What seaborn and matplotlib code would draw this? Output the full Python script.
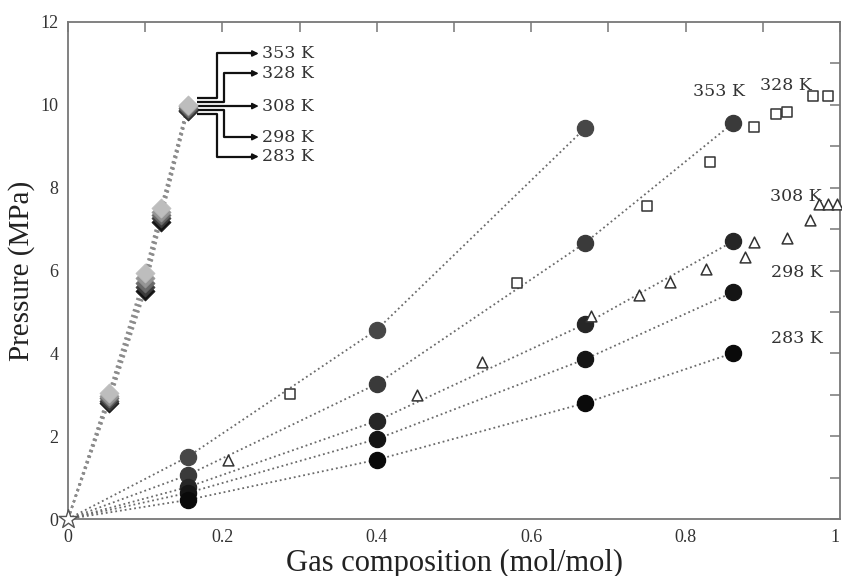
import numpy as np
import pandas as pd
import seaborn as sns
import matplotlib.pyplot as plt
from matplotlib.ticker import MultipleLocator

# temperatures (top to bottom)
temps = ['353 K', '328 K', '308 K', '298 K', '283 K']

# diamonds (low composition branch), one row per temperature
dia_x = [0.0, 0.053, 0.100, 0.120, 0.155]
dia_353 = [0.0, 3.05, 5.95, 7.50, 10.00]
dia_328 = [0.0, 2.98, 5.82, 7.42, 9.96]
dia_308 = [0.0, 2.92, 5.70, 7.34, 9.92]
dia_298 = [0.0, 2.86, 5.60, 7.26, 9.88]
dia_283 = [0.0, 2.80, 5.50, 7.18, 9.84]

# filled circles (high composition branch)
circ_x = [0.0, 0.155, 0.400, 0.670, 0.862]
circ_353 = [0.0, 1.50, 4.57, 9.44]
circ_328 = [0.0, 1.06, 3.26, 6.67, 9.57]
circ_308 = [0.0, 0.77, 2.37, 4.71, 6.71]
circ_298 = [0.0, 0.63, 1.93, 3.86, 5.48]
circ_283 = [0.0, 0.46, 1.43, 2.80, 4.01]

# open squares (328 K) and open triangles (308 K)
sq_x = [0.287, 0.582, 0.750, 0.832, 0.889, 0.917, 0.931, 0.965, 0.984]
sq_y = [3.02, 5.70, 7.56, 8.62, 9.47, 9.78, 9.83, 10.22, 10.22]
tri_x = [0.207, 0.452, 0.536, 0.678, 0.740, 0.780, 0.827, 0.877, 0.889,
         0.931, 0.961, 0.973, 0.984, 0.996]
tri_y = [1.43, 2.99, 3.80, 4.90, 5.40, 5.73, 6.03, 6.32, 6.70,
         6.79, 7.22, 7.61, 7.61, 7.61]

dia_sets = [dia_353, dia_328, dia_308, dia_298, dia_283]
circ_sets = [circ_353, circ_328, circ_308, circ_298, circ_283]
dia_colors = ['#bdbdbd', '#959595', '#6a6a6a', '#3c3c3c', '#141414']
circ_colors = ['#474747', '#3a3a3a', '#262626', '#151515', '#0a0a0a']

sns.set_theme(style='white')
plt.rcParams['font.family'] = ['Liberation Serif', 'DejaVu Serif']

fig = plt.figure(figsize=(8.42, 5.76), dpi=100)
ax = fig.add_axes([68 / 842, 1 - 519 / 576, 772 / 842, 497 / 576])

# dotted guide lines + diamonds (darkest drawn first)
for i in reversed(range(5)):
    d = pd.DataFrame({'x': dia_x, 'y': dia_sets[i]})
    sns.lineplot(data=d, x='x', y='y', ax=ax, sort=False, color='#8c8c8c',
                 linestyle=':', linewidth=1.6, zorder=2)
    sns.scatterplot(data=d.iloc[1:], x='x', y='y', ax=ax, marker='D', s=95,
                    color=dia_colors[i], edgecolor=dia_colors[i], linewidth=0.5,
                    zorder=4)

for i in range(5):
    cy = circ_sets[i]
    d = pd.DataFrame({'x': circ_x[:len(cy)], 'y': cy})
    sns.lineplot(data=d, x='x', y='y', ax=ax, sort=False, color='#6a6a6a',
                 linestyle=':', linewidth=1.3, zorder=2)
    sns.scatterplot(data=d.iloc[1:], x='x', y='y', ax=ax, marker='o', s=135,
                    color=circ_colors[i], edgecolor=circ_colors[i], zorder=5)

sns.scatterplot(x=sq_x, y=sq_y, ax=ax, marker='s', s=50, facecolor='white',
                edgecolor='#333333', linewidth=1.1, zorder=5, clip_on=False)
sns.scatterplot(x=tri_x, y=tri_y, ax=ax, marker='^', s=60, facecolor='white',
                edgecolor='#333333', linewidth=1.1, zorder=5, clip_on=False)

# open star at origin
sns.scatterplot(x=[0.0], y=[0.0], ax=ax, marker='*', s=200, facecolor='white',
                edgecolor='#555555', linewidth=1.0, zorder=6, clip_on=False)

# bracket labels for the diamond branch
stub_y = [10.16, 10.08, 9.97, 9.87, 9.77]
end_y = [11.24, 10.76, 9.97, 9.22, 8.75]
vert_x = [0.193, 0.202, None, 0.202, 0.193]
for lab, sy, ey, vx in zip(temps, stub_y, end_y, vert_x):
    if vx is None:
        ax.plot([0.167, 0.242], [sy, sy], color='#111111', lw=1.6,
                solid_capstyle='butt', zorder=3)
    else:
        ax.plot([0.167, vx, vx, 0.242], [sy, sy, ey, ey], color='#111111',
                lw=1.6, solid_capstyle='butt', zorder=3)
    ax.annotate('', xy=(0.247, ey), xytext=(0.236, ey),
                arrowprops=dict(arrowstyle='-|>', color='#111111', lw=1.2,
                                mutation_scale=9, shrinkA=0, shrinkB=0))
    ax.text(0.251, ey, lab, fontsize=12.5, family=['DejaVu Serif'],
            color='#333333', va='center', ha='left')

# labels for the high composition branch
side_pos = {'353 K': (0.810, 10.31), '328 K': (0.896, 10.46),
            '308 K': (0.909, 7.78), '298 K': (0.911, 5.95),
            '283 K': (0.911, 4.36)}
for lab in temps:
    px, py = side_pos[lab]
    ax.text(px, py, lab, fontsize=12.5, family=['DejaVu Serif'],
            color='#333333', va='center', ha='left')

ax.set_xlim(0, 1)
ax.set_ylim(0, 12)
ax.xaxis.set_major_locator(MultipleLocator(0.2))
ax.xaxis.set_minor_locator(MultipleLocator(0.1))
ax.yaxis.set_major_locator(MultipleLocator(2))
ax.yaxis.set_minor_locator(MultipleLocator(1))
ax.set_xticks([0, 0.2, 0.4, 0.6, 0.8, 1.0])
ax.set_xticklabels(['0', '0.2', '0.4', '0.6', '0.8', '1'])
ax.get_xticklabels()[-1].set_ha('right')
ax.tick_params(which='both', direction='in', length=7, width=1.1,
               color='#777777', top=True, right=True, labelsize=13,
               labelcolor='#333333', pad=7)
for sp in ax.spines.values():
    sp.set_color('#777777')
    sp.set_linewidth(1.3)

ax.set_xlabel('Gas composition (mol/mol)', fontsize=22, color='#222222',
              labelpad=2)
ax.set_ylabel('Pressure (MPa)', fontsize=21, color='#222222', labelpad=4)

fig.savefig('out.png', dpi=100)
